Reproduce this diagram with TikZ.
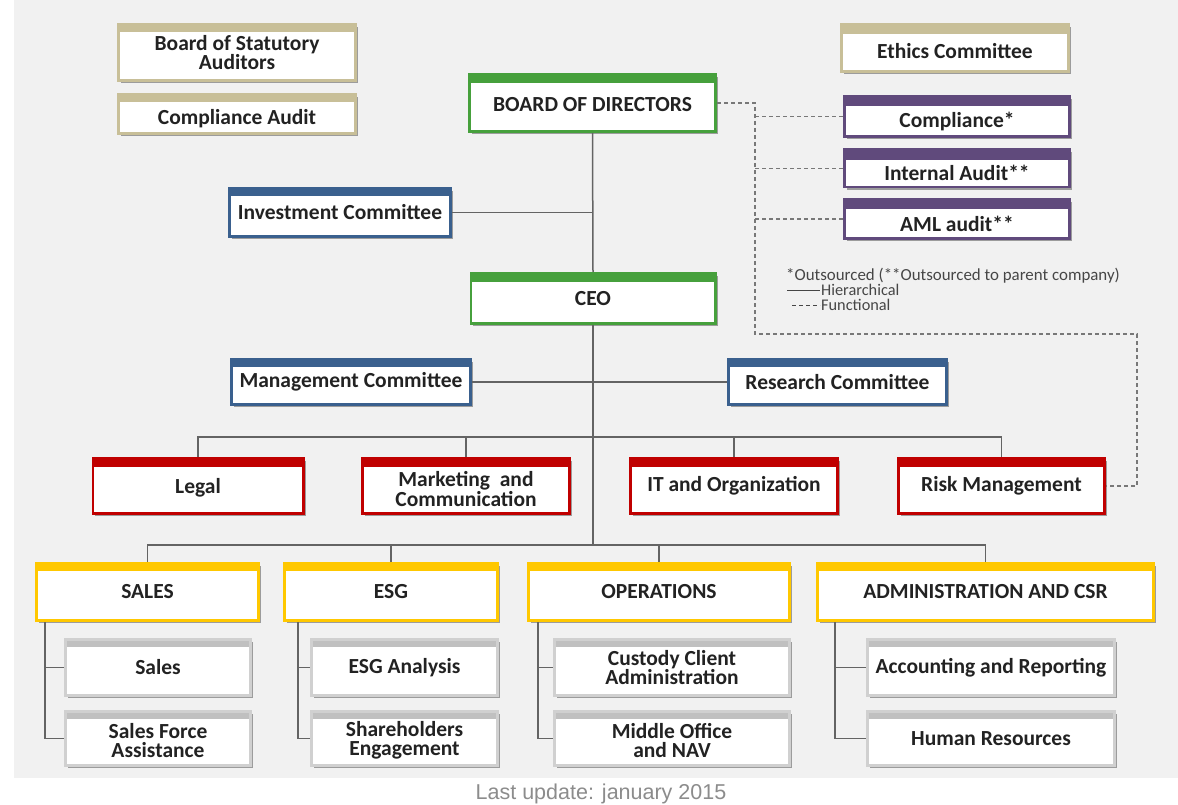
\documentclass[tikz,border=0pt]{standalone}
\usepackage{fontspec}
\setmainfont{Carlito}
\newfontfamily\footfont{Liberation Sans}
\usetikzlibrary{shadows}
\definecolor{bgc}{RGB}{241,241,241}
\definecolor{txt}{RGB}{34,34,34}
\definecolor{tanc}{RGB}{200,191,152}
\definecolor{greenc}{RGB}{70,160,60}
\definecolor{purplec}{RGB}{96,74,124}
\definecolor{bluec}{RGB}{58,96,142}
\definecolor{redc}{RGB}{192,0,0}
\definecolor{yellowc}{RGB}{255,200,0}
\definecolor{greyband}{RGB}{192,192,192}
\definecolor{greyedge}{RGB}{208,208,208}
\definecolor{linec}{RGB}{100,100,100}
\definecolor{dashc}{RGB}{120,120,120}
\definecolor{legc}{RGB}{70,70,70}
\definecolor{footc}{RGB}{140,140,140}
\tikzset{
  box/.style 2 args={rectangle, draw=#1, line width=2.6pt, fill=white, inner sep=1pt,
    path picture={\fill[#1] (path picture bounding box.north west) rectangle ([yshift=-#2pt]path picture bounding box.north east);},
    drop shadow={shadow xshift=2.5pt, shadow yshift=-2.5pt, opacity=.35, fill=black}},
  subbox/.style={box={greyband}{8}, draw=greyedge},
  lbl/.style={align=center, text=txt, inner sep=0pt, font=\bfseries\fontsize{21.5}{19.5}\selectfont},
  hier/.style={draw=linec, line width=1.5pt},
  func/.style={draw=dashc, line width=1.3pt, dash pattern=on 4pt off 3pt},
  legend/.style={text=legc, font=\fontsize{16.3}{16}\selectfont, inner sep=1pt},
}
% #1 text offset, #2 name, #3 style, #4 x, #5 y, #6 width, #7 height, #8 text
\newcommand\bx[8][0]{%
  \node[#3, minimum width={#6pt-2.6pt}, minimum height={#7pt-2.6pt}] (#2) at (#4,#5) {};
  \node[lbl] (#2-t) at ([yshift=-#1pt]#2.center) {#8};}
\begin{document}
\begin{tikzpicture}[x=1pt,y=-1pt]
\useasboundingbox (0,0) rectangle (1178,805);
\fill[white] (0,0) rectangle (1178,805);
\fill[bgc] (14,0) rectangle (1178,778);
% top-level boxes
\bx{bsa}{box={tanc}{8}}{237}{52.5}{240}{59}{Board of Statutory\\Auditors}
\bx[5]{ca}{box={tanc}{8}}{237}{114}{240}{42}{Compliance Audit}
\bx[2]{bod}{box={greenc}{9}}{592.5}{103}{249}{60}{BOARD OF DIRECTORS}
\bx[3.5]{eth}{box={tanc}{10}}{955}{48}{230}{50}{Ethics Committee}
\bx[5]{comp}{box={purplec}{10}}{957}{116.5}{228}{43}{Compliance*}
\bx[4.5]{ia}{box={purplec}{10}}{957}{168.5}{228}{40}{Internal Audit**}
\bx[5]{aml}{box={purplec}{10}}{957}{219}{228}{42}{AML audit**}
\bx{inv}{box={bluec}{8}}{340}{212.5}{224}{51}{Investment Committee}
\bx{ceo}{box={greenc}{9}}{593}{298.5}{247}{53}{CEO}
\bx{mgmt}{box={bluec}{8}}{351}{382}{242}{48}{Management Committee}
\bx{res}{box={bluec}{8}}{837.5}{382}{221}{48}{Research Committee}
\bx[1.5]{legal}{box={redc}{9}}{198}{486}{213}{58}{Legal}
\bx[3]{mkt}{box={redc}{9}}{466}{486}{210}{58}{Marketing\ \ and\\Communication}
\bx{it}{box={redc}{9}}{734}{486}{210}{58}{IT and Organization}
\bx{risk}{box={redc}{9}}{1001.5}{486}{209}{58}{Risk Management}
\bx{sales}{box={yellowc}{8}}{147.5}{592}{225}{60}{SALES}
\bx{esg}{box={yellowc}{8}}{391}{592}{216}{60}{ESG}
\bx{ops}{box={yellowc}{8}}{659}{592}{264}{60}{OPERATIONS}
\bx{adm}{box={yellowc}{8}}{985.5}{592}{339}{60}{ADMINISTRATION AND CSR}
\bx{s1}{subbox}{158}{667.5}{188}{59}{Sales}
\bx[2]{s2}{subbox}{158}{738.5}{188}{57}{Sales Force\\Assistance}
\bx{e1}{subbox}{404.5}{667.5}{189}{59}{ESG Analysis}
\bx[2]{e2}{subbox}{404.5}{738.5}{189}{57}{Shareholders\\Engagement}
\bx{o1}{subbox}{672}{667.5}{238}{59}{Custody Client\\Administration}
\bx[2]{o2}{subbox}{672}{738.5}{238}{57}{Middle Office\\and NAV}
\bx{a1}{subbox}{991}{667.5}{250}{59}{Accounting and Reporting}
\bx{a2}{subbox}{991}{738.5}{250}{57}{Human Resources}
% hierarchical connectors
\coordinate (bar1) at (0,437);
\coordinate (bar2) at (0,545);
\draw[hier] (bod.south) -- (ceo.north);
\draw[hier] (inv.east) -- (inv.east -| bod.south);
\draw[hier] (ceo.south) -- (ceo.south |- bar2);
\draw[hier] (mgmt.east) -- (res.west);
\draw[hier] (legal.north) -- (legal.north |- bar1) -- (risk.north |- bar1) -- (risk.north);
\draw[hier] (mkt.north) -- (mkt.north |- bar1);
\draw[hier] (it.north) -- (it.north |- bar1);
\draw[hier] (sales.north) -- (sales.north |- bar2) -- (adm.north |- bar2) -- (adm.north);
\draw[hier] (esg.north) -- (esg.north |- bar2);
\draw[hier] (ops.north) -- (ops.north |- bar2);
\coordinate (sx) at (45,0);
\coordinate (ex) at (298,0);
\coordinate (ox) at (538,0);
\coordinate (ax) at (835,0);
\draw[hier] (sales.south -| sx) |- (s1.west);
\draw[hier] (sales.south -| sx) |- (s2.west);
\draw[hier] (esg.south -| ex) |- (e1.west);
\draw[hier] (esg.south -| ex) |- (e2.west);
\draw[hier] (ops.south -| ox) |- (o1.west);
\draw[hier] (ops.south -| ox) |- (o2.west);
\draw[hier] (adm.south -| ax) |- (a1.west);
\draw[hier] (adm.south -| ax) |- (a2.west);
% functional connectors
\coordinate (d1) at (755,334);
\coordinate (d2) at (1137,334);
\draw[func] (bod.east) -| (d1) -- (d2) |- (risk.east);
\draw[func] (comp.west -| d1) -- (comp.west);
\draw[func] (ia.west -| d1) -- (ia.west);
\draw[func] (aml.west -| d1) -- (aml.west);
% legend
\node[legend, anchor=west, font=\fontsize{16.9}{16}\selectfont] (lg1) at (785,276) {*Outsourced (**Outsourced to parent company)};
\coordinate (h1) at (787,290);
\coordinate (h2) at (820,290);
\coordinate (f1) at (792,305);
\coordinate (f2) at (820,305);
\draw[draw=legc, line width=1pt] (h1) -- (h2);
\draw[draw=legc, line width=1pt, dash pattern=on 4pt off 3pt] (f1) -- (f2);
\node[legend, anchor=west] (lg2) at (h2) {Hierarchical};
\node[legend, anchor=west] (lg3) at (f2) {Functional};
% footer
\node[text=footc, font=\footfont\fontsize{21.5}{21.5}\selectfont, anchor=base, inner sep=0pt] (upd) at (601,799) {Last update: january 2015};
\end{tikzpicture}
\end{document}
